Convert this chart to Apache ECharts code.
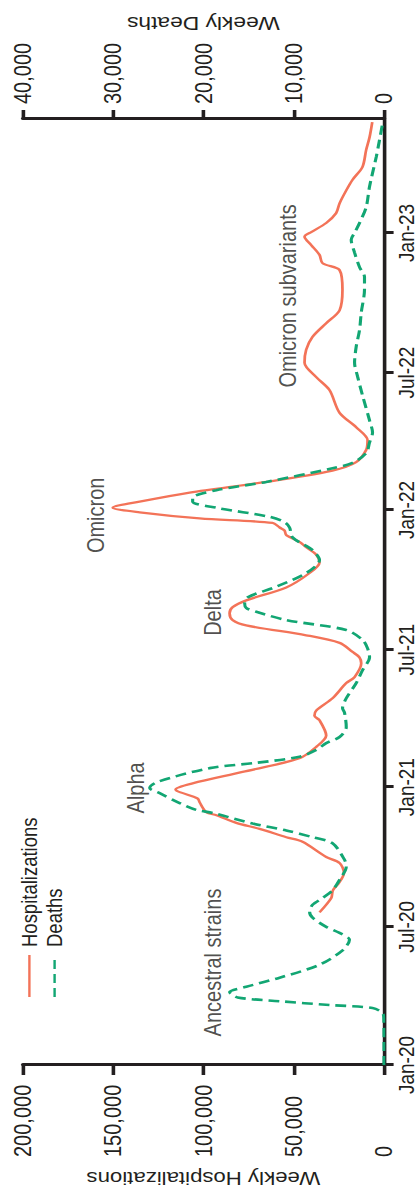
<!DOCTYPE html>
<html>
<head>
<meta charset="utf-8">
<script src="https://cdn.jsdelivr.net/npm/echarts@6/dist/echarts.min.js"></script>
<style>
  html, body { margin: 0; padding: 0; background: #fff; overflow: hidden; width: 420px; height: 1187px; }
  /* The chart is laid out landscape and turned a quarter turn so time runs upward */
  #chart {
    position: absolute; left: 0; top: 0;
    width: 1187px; height: 350px;
    transform-origin: 0 0;
    transform: matrix(0, -1, 1.2, 0, 0, 1187);
  }
</style>
</head>
<body>
<div id="chart"></div>
<script>
// Time axis ticks
const tickDates = ['2020-01-01', '2020-07-01', '2021-01-01', '2021-07-01', '2022-01-01', '2022-07-01', '2023-01-01'];
const tickLabels = ['Jan-20', 'Jul-20', 'Jan-21', 'Jul-21', 'Jan-22', 'Jul-22', 'Jan-23'];

// Value axis ticks
const hospTicks = [0, 50000, 100000, 150000, 200000];
const deathTicks = [0, 10000, 20000, 30000, 40000];

// Weekly hospitalizations
const hospDates = [
  '2020-07-20', '2020-08-08', '2020-08-18', '2020-08-29', '2020-09-10', '2020-09-23', '2020-10-01',
  '2020-10-21', '2020-10-27', '2020-11-07', '2020-11-15', '2020-11-25', '2020-11-29', '2020-12-12',
  '2020-12-17', '2020-12-29', '2021-01-06', '2021-01-21', '2021-02-08', '2021-02-23', '2021-03-10',
  '2021-03-30', '2021-04-05', '2021-04-12', '2021-04-28', '2021-05-18', '2021-05-26', '2021-06-13',
  '2021-06-21', '2021-06-28', '2021-07-10', '2021-07-20', '2021-08-02', '2021-08-09', '2021-08-18',
  '2021-08-26', '2021-09-04', '2021-09-21', '2021-10-10', '2021-10-24', '2021-11-03', '2021-11-13',
  '2021-11-20', '2021-11-29', '2021-12-05', '2021-12-09', '2021-12-15', '2021-12-21', '2021-12-29',
  '2022-01-04', '2022-01-12', '2022-01-24', '2022-02-07', '2022-02-22', '2022-03-05', '2022-03-21',
  '2022-04-03', '2022-04-20', '2022-05-09', '2022-06-08', '2022-06-25', '2022-07-14', '2022-07-31',
  '2022-08-17', '2022-09-04', '2022-09-21', '2022-10-18', '2022-11-13', '2022-11-22', '2022-12-03',
  '2022-12-16', '2022-12-27', '2023-01-02', '2023-01-14', '2023-01-27', '2023-02-09', '2023-02-26',
  '2023-03-12', '2023-03-29', '2023-04-20', '2023-05-07', '2023-05-27'
];
const hospValues = [
  35700, 29200, 28300, 24600, 22200, 24600, 32000,
  45100, 54100, 68900, 81800, 92800, 98400, 102100,
  103200, 115400, 106000, 78300, 46800, 37500, 32000,
  35700, 38500, 37500, 28500, 20900, 16300, 12600,
  13600, 17400, 24600, 43100, 76300, 83800, 85500,
  83800, 76300, 54100, 41200, 35700, 37500, 43100,
  46800, 54100, 55100, 57800, 61700, 102100, 135300,
  150200, 135300, 107600, 65200, 28500, 15400, 9900,
  9100, 15400, 24600, 30200, 37500, 44000, 43100,
  39600, 32000, 24600, 23000, 24600, 34000, 35700,
  40300, 44000, 40300, 32000, 26500, 24600, 20900,
  17400, 11900, 9900, 8000, 6500
];

// Weekly deaths
const deathDates = [
  '2020-01-01', '2020-02-01', '2020-03-01', '2020-03-09', '2020-03-16', '2020-03-20', '2020-03-25',
  '2020-03-30', '2020-04-06', '2020-04-13', '2020-04-25', '2020-05-12', '2020-05-31', '2020-06-14',
  '2020-06-23', '2020-07-01', '2020-07-13', '2020-07-21', '2020-07-30', '2020-08-08', '2020-08-18',
  '2020-09-01', '2020-09-18', '2020-09-27', '2020-10-19', '2020-10-27', '2020-11-05', '2020-11-14',
  '2020-11-28', '2020-12-02', '2020-12-11', '2020-12-24', '2020-12-31', '2021-01-08', '2021-01-26',
  '2021-02-02', '2021-02-10', '2021-02-19', '2021-02-28', '2021-03-08', '2021-03-21', '2021-04-09',
  '2021-04-15', '2021-04-28', '2021-05-18', '2021-06-04', '2021-06-21', '2021-07-03', '2021-07-14',
  '2021-07-27', '2021-08-09', '2021-08-20', '2021-08-25', '2021-08-31', '2021-09-08', '2021-09-22',
  '2021-10-10', '2021-10-27', '2021-11-09', '2021-11-26', '2021-12-09', '2021-12-16', '2021-12-23',
  '2022-01-04', '2022-01-12', '2022-01-17', '2022-01-27', '2022-02-07', '2022-02-25', '2022-03-04',
  '2022-03-17', '2022-03-31', '2022-04-13', '2022-04-29', '2022-06-01', '2022-06-26', '2022-07-14',
  '2022-08-04', '2022-08-26', '2022-09-18', '2022-10-18', '2022-11-04', '2022-11-17', '2022-12-06',
  '2022-12-23', '2023-01-01', '2023-01-14', '2023-02-04', '2023-03-03', '2023-04-11', '2023-05-03',
  '2023-05-27'
];
const deathValues = [
  0, 0, 20, 130, 1270, 6030, 11560,
  16210, 17100, 15250, 11560, 7140, 4590, 3820,
  4920, 6400, 7910, 8240, 7910, 6800, 5700,
  4920, 4180, 4360, 5700, 7910, 10820, 14550,
  18970, 20780, 22630, 24840, 25950, 25060, 19310,
  14140, 9350, 7500, 6400, 4920, 4180, 4370,
  4590, 4180, 3080, 2380, 1600, 1830, 2380,
  4180, 10820, 14140, 15250, 15430, 15100, 11930,
  8610, 7140, 7910, 10130, 10460, 11010, 12670,
  18570, 21190, 21190, 18570, 13040, 5700, 3490,
  1970, 1600, 1270, 1600, 2380, 2930, 3260,
  3080, 2710, 2520, 2160, 2160, 2710, 3260,
  3630, 3260, 2710, 1970, 1600, 860, 500,
  130
];

// Variant wave annotations (placed on the hospitalization scale)
const noteTexts = ['Ancestral strains', 'Alpha', 'Delta', 'Omicron', 'Omicron subvariants'];
const noteDates = ['2020-05-15', '2020-12-31', '2021-08-19', '2021-12-25', '2022-10-10'];
const noteValues = [95000, 137500, 95000, 159600, 53400];

const FONT = '"Liberation Sans", Arial, Helvetica, sans-serif';
const INK = '#231f20';
const ORANGE = '#f37358';
const GREEN = '#12a673';
const AXIS_W = 3;

// Dates are placed on a plain numeric axis in UTC milliseconds
function toTime(s) {
  const p = s.split('-').map(Number);
  return Date.UTC(p[0], p[1] - 1, p[2]);
}
const tickTimes = tickDates.map(toTime);

// Hospitalization tick labels share a common start edge
function hospLabel(v) {
  return '{n|' + echarts.format.addCommas(v) + '}';
}

const chart = echarts.init(document.getElementById('chart'), null, { renderer: 'svg' });

chart.setOption({
  animation: false,
  backgroundColor: '#fff',
  textStyle: { fontFamily: FONT },
  grid: { left: 122, right: 119, top: 19, bottom: 30, outerBoundsMode: 'none' },
  legend: {
    data: ['Hospitalizations', 'Deaths'],
    orient: 'vertical',
    left: 189,
    top: 15,
    padding: 0,
    itemGap: 2,
    itemWidth: 42,
    itemHeight: 14,
    itemStyle: { opacity: 0 },
    textStyle: { fontFamily: FONT, fontSize: 18.5, color: INK, padding: [0, 0, 0, 3] }
  },
  xAxis: {
    type: 'value',
    min: toTime('2020-01-01'),
    max: toTime('2023-05-31'),
    axisLine: { show: true, onZero: false, lineStyle: { color: INK, width: AXIS_W } },
    axisTick: { show: true, length: 8, customValues: tickTimes, lineStyle: { color: INK, width: AXIS_W } },
    axisLabel: {
      customValues: tickTimes,
      margin: 9,
      fontSize: 19,
      fontFamily: FONT,
      color: INK,
      hideOverlap: false,
      formatter: function (v) {
        const i = tickTimes.indexOf(v);
        return i >= 0 ? tickLabels[i] : '';
      }
    },
    splitLine: { show: false }
  },
  yAxis: [
    {
      type: 'value',
      position: 'left',
      min: 0,
      max: 200000,
      interval: 50000,
      name: 'Weekly Hospitalizations',
      nameLocation: 'middle',
      nameRotate: 90,
      nameGap: 104,
      nameMoveOverlap: false,
      nameTextStyle: { fontFamily: FONT, fontSize: 18.5, color: INK },
      axisLine: { show: true, onZero: false, lineStyle: { color: INK, width: AXIS_W } },
      axisTick: { show: true, length: 10, customValues: hospTicks, lineStyle: { color: INK, width: AXIS_W } },
      axisLabel: {
        customValues: hospTicks,
        showMinLabel: true,
        hideOverlap: false,
        margin: 18,
        formatter: hospLabel,
        rich: { n: { width: 74, align: 'left', fontSize: 20, fontFamily: FONT, color: INK } }
      },
      splitLine: { show: false }
    },
    {
      type: 'value',
      position: 'right',
      min: 0,
      max: 40000,
      interval: 10000,
      name: 'Weekly Deaths',
      nameLocation: 'middle',
      nameRotate: 90,
      nameGap: 86,
      nameMoveOverlap: false,
      nameTextStyle: { fontFamily: FONT, fontSize: 19, color: INK },
      axisLine: { show: true, onZero: false, lineStyle: { color: INK, width: AXIS_W } },
      axisTick: { show: true, length: 9, customValues: deathTicks, lineStyle: { color: INK, width: AXIS_W } },
      axisLabel: { customValues: deathTicks, margin: 15, fontSize: 20, fontFamily: FONT, color: INK },
      splitLine: { show: false }
    }
  ],
  series: [
    {
      name: 'Hospitalizations',
      type: 'line',
      yAxisIndex: 0,
      symbol: 'none',
      smooth: 0.3,
      color: ORANGE,
      lineStyle: { color: ORANGE, width: 2.3 },
      data: hospDates.map((d, i) => [toTime(d), hospValues[i]]),
      z: 3
    },
    {
      name: 'Deaths',
      type: 'line',
      yAxisIndex: 1,
      symbol: 'none',
      smooth: 0.3,
      color: GREEN,
      lineStyle: { color: GREEN, width: 2.6, type: [9, 5] },
      data: deathDates.map((d, i) => [toTime(d), deathValues[i]]),
      z: 4
    },
    {
      name: 'notes',
      type: 'scatter',
      yAxisIndex: 0,
      symbolSize: 1,
      itemStyle: { color: 'rgba(0,0,0,0)' },
      silent: true,
      label: {
        show: true,
        position: 'inside',
        formatter: p => p.name,
        fontFamily: FONT,
        fontSize: 20,
        color: INK
      },
      data: noteTexts.map((t, i) => ({ name: t, value: [toTime(noteDates[i]), noteValues[i]] })),
      z: 5
    }
  ]
});
</script>
</body>
</html>
